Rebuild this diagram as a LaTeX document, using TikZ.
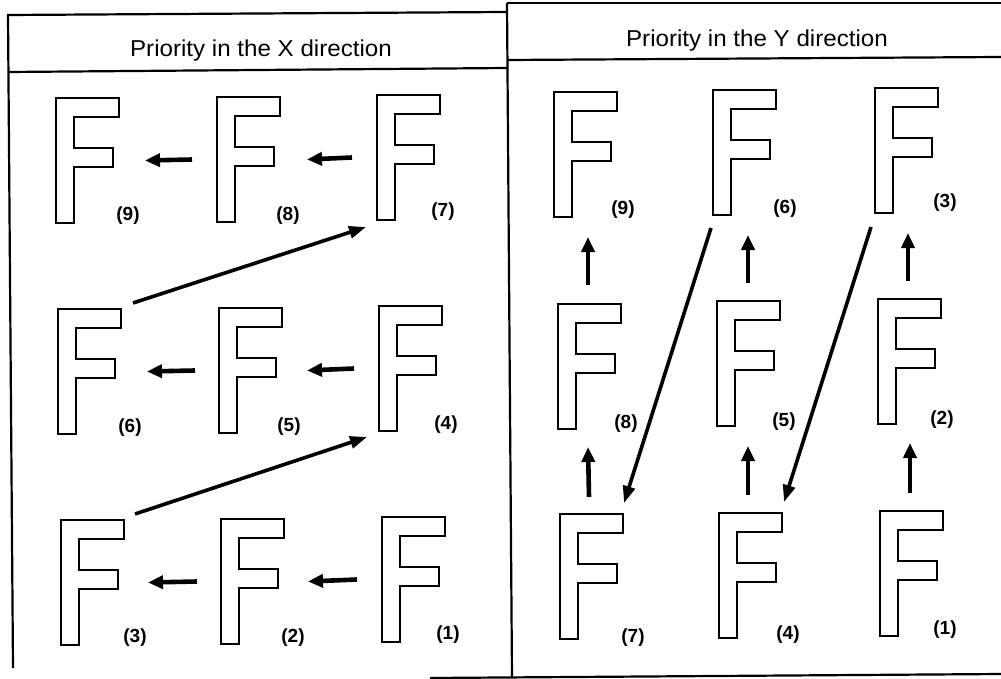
\documentclass[tikz,border=0pt]{standalone}
\usepackage{fontspec}
\setmainfont{Liberation Sans}
\usepackage{graphicx}
\usetikzlibrary{arrows.meta}
\newcommand\drawF[1]{\draw[fline] (#1.north west) -- ++(63,0) -- ++(0,19) -- ++(-45,0) -- ++(0,31) -- ++(39,0) -- ++(0,19) -- ++(-39,0) -- ++(0,56) -- ++(-18,0) -- cycle;}
\begin{document}
\begin{tikzpicture}[x=1pt,y=-1pt,
  fbox/.style={inner sep=0pt, outer sep=0pt, minimum width=63pt, minimum height=125pt, anchor=north west},
  fline/.style={line width=2pt, line join=miter},
  frame/.style={line width=2.2pt},
  harrow/.style={line width=4.6pt, -{Triangle[length=15pt,width=13pt]}},
  darrow/.style={line width=3.6pt, -{Triangle[length=17pt,width=12pt]}},
  lab/.style={font=\fontsize{19}{19}\selectfont\bfseries, inner sep=0pt},
  head/.style={font=\fontsize{23}{23}\selectfont, inner sep=0pt, anchor=base}]
\useasboundingbox (0,0) rectangle (1001,679);
\fill[white] (0,0) rectangle (1001,679);
% frame
\coordinate (ltl) at (8,15);
\coordinate (ltr) at (507,12);
\coordinate (lbl) at (13,668);
\coordinate (lhl) at (8,72);
\coordinate (lhr) at (507,68);
\coordinate (dt) at (507,3);
\coordinate (db) at (512,678);
\coordinate (rtr) at (1001,3);
\coordinate (rhl) at (507,60);
\coordinate (rhr) at (1001,57);
\coordinate (bl) at (430,678);
\coordinate (br) at (1001,674);
\draw[frame] (lbl) -- (ltl) -- (ltr);
\draw[frame] (lhl) -- (lhr);
\draw[frame] (dt) -- (db);
\draw[frame] (dt) -- (rtr);
\draw[frame] (rhl) -- (rhr);
\draw[frame] (bl) -- (br);
% headers
\node[head] (hx) at (261,57) {\scalebox{1.05}[1]{Priority in the X direction}};
\node[head] (hy) at (757,47) {\scalebox{1.05}[1]{Priority in the Y direction}};
% left panel F nodes
\node[fbox] (a9) at (56,98) {};
\node[fbox] (a8) at (217,97) {};
\node[fbox] (a7) at (377,95) {};
\node[fbox] (a6) at (58,309) {};
\node[fbox] (a5) at (219,308) {};
\node[fbox] (a4) at (379,306) {};
\node[fbox] (a3) at (61,520) {};
\node[fbox] (a2) at (221,519) {};
\node[fbox] (a1) at (382,517) {};
\foreach \n in {1,...,9}{\drawF{a\n}}
% right panel F nodes
\node[fbox] (b9) at (554,92) {};
\node[fbox] (b6) at (713,90) {};
\node[fbox] (b3) at (875,88) {};
\node[fbox] (b8) at (558,304) {};
\node[fbox] (b5) at (717,301) {};
\node[fbox] (b2) at (878,299) {};
\node[fbox] (b7) at (560,514) {};
\node[fbox] (b4) at (719,513) {};
\node[fbox] (b1) at (880,511) {};
\foreach \n in {1,...,9}{\drawF{b\n}}
% left labels
\node[lab] (la9) at (128,216) {(9)};
\node[lab] (la8) at (288,216) {(8)};
\node[lab] (la7) at (443,212) {(7)};
\node[lab] (la6) at (130,428) {(6)};
\node[lab] (la5) at (289,427) {(5)};
\node[lab] (la4) at (446,425) {(4)};
\node[lab] (la3) at (135,638) {(3)};
\node[lab] (la2) at (293,638) {(2)};
\node[lab] (la1) at (448,635) {(1)};
% right labels
\node[lab] (lb9) at (623,210) {(9)};
\node[lab] (lb6) at (785,209) {(6)};
\node[lab] (lb3) at (945,203) {(3)};
\node[lab] (lb8) at (626,424) {(8)};
\node[lab] (lb5) at (784,422) {(5)};
\node[lab] (lb2) at (942,420) {(2)};
\node[lab] (lb7) at (633,638) {(7)};
\node[lab] (lb4) at (788,635) {(4)};
\node[lab] (lb1) at (945,630) {(1)};
% left horizontal arrows
\draw[harrow] ([xshift=-25pt]a8.west) -- ([xshift=26pt]a9.east);
\draw[harrow] ([xshift=-25pt]a7.west) -- ([xshift=27pt]a8.east);
\draw[harrow] ([xshift=-24pt]a5.west) -- ([xshift=26pt]a6.east);
\draw[harrow] ([xshift=-25pt]a4.west) -- ([xshift=25pt]a5.east);
\draw[harrow] ([xshift=-24pt]a2.west) -- ([xshift=24pt]a3.east);
\draw[harrow] ([xshift=-25pt]a1.west) -- ([xshift=24pt]a2.east);
% left diagonal arrows
\draw[darrow] ([shift={(12,-6)}]a6.north east) -- ([shift={(-11,7)}]a7.south west);
\draw[darrow] ([shift={(11,-6)}]a3.north east) -- ([shift={(-12,6)}]a4.south west);
% right up arrows
\draw[harrow] ([xshift=-1.5pt,yshift=19pt]b8.north) -- ([xshift=2.5pt,yshift=-20pt]b9.south);
\draw[harrow] ([xshift=-0.5pt,yshift=18pt]b5.north) -- ([xshift=3.5pt,yshift=-20pt]b6.south);
\draw[harrow] ([xshift=-1.5pt,yshift=18pt]b2.north) -- ([xshift=1.5pt,yshift=-20pt]b3.south);
\draw[harrow] ([xshift=-2.5pt,yshift=17pt]b7.north) -- ([xshift=-1.5pt,yshift=-18pt]b8.south);
\draw[harrow] ([xshift=-2.5pt,yshift=18pt]b4.north) -- ([xshift=-0.5pt,yshift=-20pt]b5.south);
\draw[harrow] ([xshift=-1.5pt,yshift=18pt]b1.north) -- ([xshift=0.5pt,yshift=-19pt]b2.south);
% right diagonal arrows
\draw[darrow] ([shift={(-2,13)}]b6.south west) -- ([shift={(1,-11)}]b7.north east);
\draw[darrow] ([shift={(-4,14)}]b3.south west) -- ([shift={(2,-11)}]b4.north east);
\end{tikzpicture}
\end{document}
